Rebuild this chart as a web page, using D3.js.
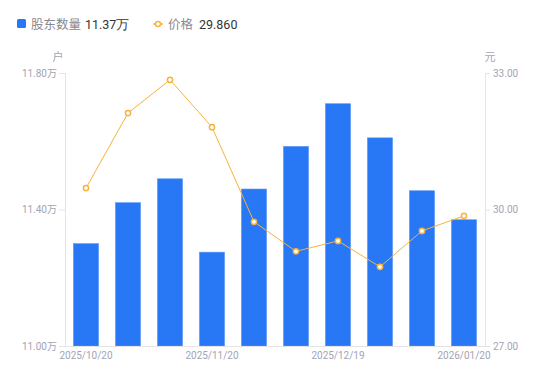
<!DOCTYPE html>
<html>
<head>
<meta charset="utf-8">
<script src="https://cdn.jsdelivr.net/npm/d3@7"></script>
<style>
  body { margin: 0; background: #fff; }
  svg { display: block; font-family: "Noto Sans CJK SC", "Noto Sans", sans-serif; }
</style>
</head>
<body>
<svg id="chart"></svg>
<script>
const w = 550, h = 381;

// data
const dates = ["2025/10/20", "2025/10/31", "2025/11/10", "2025/11/20", "2025/11/28",
  "2025/12/10", "2025/12/19", "2025/12/31", "2026/01/09", "2026/01/20"];
const holders = [11.30, 11.42, 11.49, 11.275, 11.46, 11.585, 11.71, 11.61, 11.455, 11.37]; // 万户
const prices = [30.47, 32.12, 32.85, 31.81, 29.73, 29.08, 29.31, 28.74, 29.53, 29.86];
const leftTicks = [11.0, 11.4, 11.8];
const rightTicks = [27, 30, 33];
const shownDates = ["2025/10/20", "2025/11/20", "2025/12/19", "2026/01/20"];

const m = { top: 73, right: 65, bottom: 35, left: 65 };

const svg = d3.select("#chart").attr("width", w).attr("height", h);

const x = d3.scaleBand()
  .domain(dates)
  .range([m.left, w - m.right])
  .paddingInner(0.4)
  .paddingOuter(0.2);

const yL = d3.scaleLinear().domain([11.0, 11.8]).range([h - m.bottom, m.top]);
const yR = d3.scaleLinear().domain([27, 33]).range([h - m.bottom, m.top]);

const axisCol = "#e3e3e8", labelCol = "#a3a3b5";

// bars
svg.append("g")
  .selectAll("rect")
  .data(holders)
  .join("rect")
    .attr("x", (d, i) => x(dates[i]))
    .attr("y", d => yL(d))
    .attr("width", x.bandwidth())
    .attr("height", d => yL(11.0) - yL(d))
    .attr("fill", "#2878f5")
    .attr("stroke", "#5d98f7")
    .attr("stroke-width", 0.6);

// axes
const left = svg.append("g")
  .attr("transform", `translate(${m.left},0)`)
  .call(d3.axisLeft(yL).tickValues(leftTicks).tickSize(6).tickPadding(2)
    .tickFormat(d => d3.format(".2f")(d) + "万"));
const right = svg.append("g")
  .attr("transform", `translate(${w - m.right},0)`)
  .call(d3.axisRight(yR).tickValues(rightTicks).tickSize(5).tickPadding(3)
    .tickFormat(d3.format(".2f")));
const bottom = svg.append("g")
  .attr("transform", `translate(0,${h - m.bottom})`)
  .call(d3.axisBottom(x).tickValues(shownDates).tickSize(0).tickPadding(6));

[left, right, bottom].forEach(g => {
  g.select(".domain").attr("stroke", axisCol);
  g.selectAll(".tick line").attr("stroke", axisCol);
  g.selectAll(".tick text").attr("fill", labelCol).style("font-size", "10px")
    .style("font-family", "Roboto, 'Noto Sans CJK SC', sans-serif");
});
bottom.select(".domain").attr("d", `M${m.left},0.5H${w - m.right}`);

// unit labels
svg.append("text").attr("x", 58).attr("y", 61).attr("text-anchor", "middle")
  .attr("fill", labelCol).style("font-size", "11px").text("户");
svg.append("text").attr("x", 490).attr("y", 61).attr("text-anchor", "middle")
  .attr("fill", labelCol).style("font-size", "11px").text("元");

// price line
const cx = (d, i) => x(dates[i]) + x.bandwidth() / 2;
const lineCol = "#f8b23c";
svg.append("path")
  .datum(prices)
  .attr("fill", "none")
  .attr("stroke", lineCol)
  .attr("stroke-width", 1)
  .attr("d", d3.line().x(cx).y(d => yR(d)));

svg.append("g")
  .selectAll("circle")
  .data(prices)
  .join("circle")
    .attr("cx", cx)
    .attr("cy", d => yR(d))
    .attr("r", 2.6)
    .attr("fill", "#fff")
    .attr("stroke", lineCol)
    .attr("stroke-width", 1.5);

// legend
const lg = svg.append("g").style("font-size", "12.5px");
lg.append("rect").attr("x", 17).attr("y", 19).attr("width", 9).attr("height", 9)
  .attr("rx", 1.5).attr("fill", "#2878f5");
lg.append("text").attr("x", 31).attr("y", 28.5).attr("fill", "#888892").text("股东数量");
lg.append("text").attr("x", 85).attr("y", 28.5).attr("fill", "#333")
  .style("font-family", "Roboto, sans-serif").text(d3.format(".2f")(holders[holders.length - 1]) + "万");

lg.append("line").attr("x1", 153).attr("x2", 163).attr("y1", 24).attr("y2", 24)
  .attr("stroke", lineCol).attr("stroke-width", 1.5);
lg.append("circle").attr("cx", 158).attr("cy", 24).attr("r", 2.5)
  .attr("fill", "#fff").attr("stroke", lineCol).attr("stroke-width", 1.5);
lg.append("text").attr("x", 168).attr("y", 28.5).attr("fill", "#888892").text("价格");
lg.append("text").attr("x", 199).attr("y", 28.5).attr("fill", "#333")
  .style("font-family", "Roboto, sans-serif").text(d3.format(".3f")(prices[prices.length - 1]));
</script>
</body>
</html>
